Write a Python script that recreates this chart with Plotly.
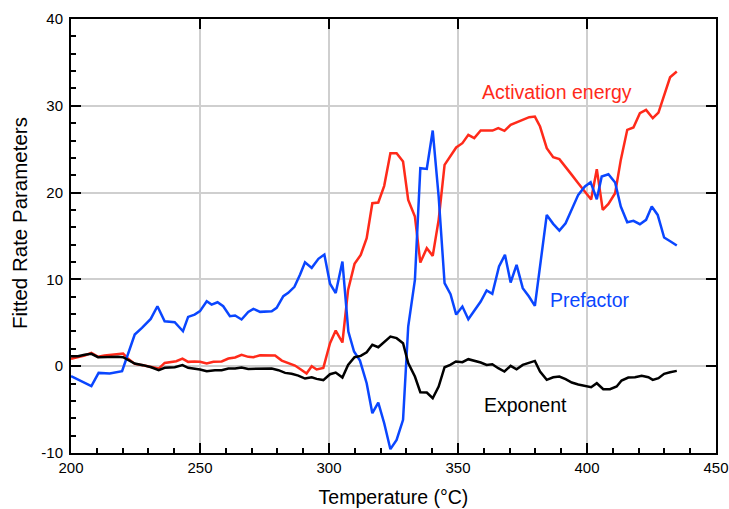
import plotly.graph_objects as go

# ---- data ----
pref_T = [200.0, 202.7, 207.9, 210.7, 215.0, 219.8, 224.7, 227.5, 230.9, 233.5, 236.3, 240.2, 243.4, 245.4,
          247.9, 250.0, 252.6, 254.5, 256.8, 259.0, 261.6, 263.6, 266.1, 268.7, 270.7, 273.3, 277.8, 279.7,
          282.3, 284.2, 286.6, 288.8, 290.7, 293.3, 295.9, 298.2, 300.4, 302.6, 305.2, 307.5, 309.7, 312.0,
          314.6, 316.8, 319.1, 321.4, 323.8, 326.2, 328.7, 330.7, 333.3, 335.4, 337.9, 340.2, 342.5, 344.8,
          347.1, 349.3, 351.7, 354.0, 356.6, 358.8, 361.1, 363.3, 365.9, 368.2, 370.4, 372.7, 375.1, 377.5,
          379.8, 384.4, 386.9, 389.3, 391.7, 394.1, 396.6, 399.2, 401.4, 403.8, 405.7, 408.3, 410.9, 413.1,
          415.6, 418.0, 420.5, 422.9, 425.1, 427.4, 429.9, 432.4, 434.8]
pref_v = [-1.15, -1.54, -2.3, -0.77, -0.85, -0.58, 3.65, 4.42, 5.45, 6.91, 5.18, 5.07, 4.03, 5.68,
          5.95, 6.34, 7.49, 7.10, 7.37, 6.91, 5.76, 5.84, 5.38, 6.26, 6.61, 6.26, 6.34, 6.72,
          8.06, 8.45, 9.14, 10.56, 11.98, 11.33, 12.37, 12.86, 9.5, 8.43, 12.06, 3.99, 1.69, 0.65,
          -1.96, -5.41, -4.19, -6.57, -9.56, -8.49, -6.18, 4.57, 9.95, 22.81, 22.73, 27.15, 19.55, 9.56,
          8.3, 5.95, 6.87, 5.41, 6.49, 7.45, 8.72, 8.33, 11.48, 12.83, 9.64, 11.67, 8.99, 8.03,
          6.95, 17.43, 16.40, 15.63, 16.47, 18.01, 19.74, 20.7, 21.2, 19.24, 21.85, 22.12, 21.16, 18.39,
          16.59, 16.74, 16.36, 16.86, 18.39, 17.43, 14.82, 14.36, 13.90]

act_T = [200.0, 202.7, 205.3, 207.9, 210.5, 213.0, 215.6, 218.2, 220.2, 221.8, 224.7, 227.9, 231.1, 234.0,
         236.3, 238.9, 240.8, 243.2, 245.4, 247.9, 250.0, 252.6, 255.2, 258.4, 261.0, 263.6, 266.1, 268.7,
         270.7, 273.3, 275.8, 279.1, 281.7, 284.2, 286.8, 289.1, 291.3, 293.3, 295.2, 297.8, 300.4, 302.6,
         305.2, 307.4, 309.9, 312.3, 314.6, 316.8, 319.1, 321.4, 323.8, 326.2, 328.7, 330.7, 333.3, 335.4,
         337.9, 340.2, 342.5, 344.8, 347.1, 349.3, 351.7, 354.0, 356.3, 358.8, 361.1, 363.4, 365.6, 368.0,
         370.4, 372.7, 375.3, 377.6, 379.8, 381.8, 384.4, 386.9, 389.3, 391.7, 394.1, 396.6, 399.2, 401.6,
         403.8, 406.1, 408.3, 410.9, 413.1, 415.6, 418.0, 420.5, 422.9, 425.5, 427.7, 429.9, 432.2, 434.8]
act_v = [0.84, 1.0, 1.23, 1.54, 1.08, 1.23, 1.34, 1.42, 1.46, 0.96, 0.27, 0.12, -0.08, -0.27,
         0.38, 0.50, 0.58, 0.88, 0.5, 0.55, 0.5, 0.31, 0.5, 0.54, 0.88, 1.0, 1.31, 1.08,
         1.04, 1.27, 1.27, 1.23, 0.65, 0.38, 0.08, -0.38, -0.84, 0.0, -0.38, -0.2, 2.65, 4.11,
         2.73, 8.79, 11.79, 12.83, 14.75, 18.78, 18.86, 20.78, 24.54, 24.54, 23.58, 19.16, 17.24, 11.94,
         13.59, 12.71, 16.86, 23.2, 24.2, 25.2, 25.69, 26.65, 26.27, 27.15, 27.15, 27.15, 27.42, 27.11,
         27.8, 28.07, 28.46, 28.69, 28.76, 27.61, 25.12, 24.08, 23.85, 23.0, 22.04, 21.08, 20.12, 19.2,
         22.7, 18.01, 18.7, 19.93, 23.77, 27.23, 27.5, 29.15, 29.53, 28.57, 29.22, 31.26, 33.29, 33.95]

exp_T = [200.0, 202.7, 205.3, 207.9, 210.5, 214.3, 218.2, 220.2, 222.1, 224.7, 227.9, 231.1, 234.0, 236.3,
         240.2, 243.2, 245.4, 247.9, 250.0, 252.6, 255.8, 258.4, 261.0, 263.6, 266.1, 268.7, 271.3, 273.9,
         277.8, 280.4, 283.0, 285.5, 288.1, 290.7, 293.3, 295.2, 297.8, 300.4, 302.6, 305.2, 307.4, 309.9,
         312.3, 314.6, 316.8, 319.1, 321.4, 323.8, 326.2, 328.7, 330.7, 333.3, 335.4, 337.9, 340.2, 342.5,
         344.8, 347.0, 349.2, 351.7, 354.0, 356.6, 358.8, 361.1, 363.3, 365.6, 368.0, 370.4, 372.7, 375.1,
         377.5, 379.8, 381.8, 384.4, 386.9, 389.3, 391.7, 394.1, 396.6, 399.2, 401.6, 403.8, 406.3, 408.9,
         411.5, 413.4, 416.0, 418.6, 421.2, 423.8, 425.5, 427.7, 429.9, 432.2, 434.8]
exp_v = [1.15, 1.15, 1.31, 1.42, 1.04, 1.08, 1.08, 1.04, 0.69, 0.31, 0.12, -0.12, -0.46, -0.19,
         -0.12, 0.12, -0.19, -0.27, -0.38, -0.58, -0.46, -0.46, -0.27, -0.27, -0.15, -0.31, -0.31, -0.27,
         -0.27, -0.46, -0.77, -0.88, -1.08, -1.42, -1.27, -1.46, -1.6, -0.92, -0.73, -1.31, 0.15, 1.04,
         1.19, 1.61, 2.46, 2.19, 2.76, 3.42, 3.23, 2.65, 0.35, -1.19, -3.0, -3.03, -3.69, -2.34,
         -0.12, 0.15, 0.54, 0.46, 0.81, 0.61, 0.42, 0.15, 0.23, -0.23, -0.61, 0.04, -0.35, 0.15,
         0.35, 0.61, -0.61, -1.57, -1.27, -1.19, -1.5, -1.88, -2.1, -2.3, -2.42, -1.96, -2.65, -2.65,
         -2.34, -1.65, -1.31, -1.27, -1.11, -1.27, -1.57, -1.38, -0.88, -0.69, -0.54]

x_ticks = [200, 250, 300, 350, 400, 450]
x_tick_text = ["200", "250", "300", "350", "400", "450"]
y_ticks = [-10, 0, 10, 20, 30, 40]
y_tick_text = ["-10", "0", "10", "20", "30", "40"]

RED = "#FF2A1A"
BLUE = "#0A46FF"
BLACK = "#000000"
FONT = "Liberation Sans, Arial, Helvetica, sans-serif"

fig = go.Figure()
fig.add_trace(go.Scatter(x=act_T, y=act_v, mode="lines", line=dict(color=RED, width=2.5), name="Activation energy"))
fig.add_trace(go.Scatter(x=pref_T, y=pref_v, mode="lines", line=dict(color=BLUE, width=2.5), name="Prefactor"))
fig.add_trace(go.Scatter(x=exp_T, y=exp_v, mode="lines", line=dict(color=BLACK, width=2.5), name="Exponent"))
# dummy trace so the mirrored tick axes (top/right) are drawn
fig.add_trace(go.Scatter(x=[None], y=[None], xaxis="x2", yaxis="y2", showlegend=False, hoverinfo="skip"))

axis_common = dict(showline=True, linecolor="black", linewidth=2, zeroline=False, automargin=False)

fig.update_layout(
    width=729, height=509,
    margin=dict(l=71, r=13, t=19, b=56),
    paper_bgcolor="white", plot_bgcolor="white",
    showlegend=False,
    font=dict(family=FONT, color="black"),
    xaxis=dict(range=[200, 450], tickvals=x_ticks, ticktext=x_tick_text, ticks="inside", ticklen=10, tickwidth=2,
               tickcolor="black",
               minor=dict(ticks="inside", ticklen=5, tickwidth=1.5, tickcolor="black", dtick=10, showgrid=False),
               showgrid=True, gridcolor="#CFCFCF", gridwidth=1.5, mirror=True,
               tickfont=dict(size=15), title=dict(text="Temperature (°C)", font=dict(size=19.5)),
               **axis_common),
    yaxis=dict(range=[-10, 40], tickvals=y_ticks, ticktext=y_tick_text, ticks="inside", ticklen=10, tickwidth=2,
               tickcolor="black", ticklabelstandoff=3,
               minor=dict(ticks="inside", ticklen=5, tickwidth=1.5, tickcolor="black", dtick=2, showgrid=False),
               showgrid=True, gridcolor="#CFCFCF", gridwidth=1.5, mirror=True,
               tickfont=dict(size=15),
               **axis_common),
    xaxis2=dict(range=[200, 450], tickvals=x_ticks, ticks="inside", ticklen=10, tickwidth=2, tickcolor="black",
                showticklabels=False, showgrid=False, overlaying="x", side="top", zeroline=False, showline=False,
                automargin=False),
    yaxis2=dict(range=[-10, 40], tickvals=y_ticks, ticks="inside", ticklen=10, tickwidth=2, tickcolor="black",
                showticklabels=False, showgrid=False, overlaying="y", side="right", zeroline=False, showline=False,
                automargin=False),
)

# y-axis title placed as rotated text
fig.add_annotation(xref="paper", yref="paper", x=(20 - 71) / 645, y=(453 - 223) / 434,
                   text="Fitted Rate Parameters", textangle=-90, showarrow=False,
                   xanchor="center", yanchor="middle", font=dict(size=20.5, color="black", family=FONT))

fig.add_annotation(x=388.4, y=31.6, text="Activation energy", showarrow=False,
                   font=dict(size=19.5, color=RED, family=FONT))
fig.add_annotation(x=401.2, y=7.6, text="Prefactor", showarrow=False,
                   font=dict(size=19.5, color=BLUE, family=FONT))
fig.add_annotation(x=376.0, y=-4.5, text="Exponent", showarrow=False,
                   font=dict(size=19.5, color=BLACK, family=FONT))

fig.write_html("out.html")
